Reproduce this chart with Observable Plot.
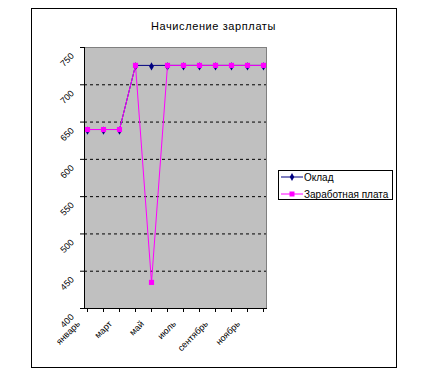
<!DOCTYPE html>
<html><head><meta charset="utf-8">
<script src="https://cdn.jsdelivr.net/npm/d3@7"></script>
<script src="https://cdn.jsdelivr.net/npm/@observablehq/plot@0.6"></script>
<style>
body{margin:0;background:#fff;font-family:"Liberation Sans",Arial,sans-serif;}
#wrap{position:relative;width:442px;height:371px;}
#border{position:absolute;left:31px;top:8px;width:364px;height:358px;border:1px solid #000;box-sizing:content-box;}
#title{position:absolute;left:31px;width:365px;top:20px;text-align:center;font-size:11px;letter-spacing:0.6px;}
#legend{position:absolute;left:278px;top:170px;width:113px;height:28px;border:1px solid #000;font-size:10px;background:#fff;}
.row{position:absolute;left:1px;height:12px;display:flex;align-items:center;}
#chart{position:absolute;left:0;top:0;}
</style></head><body>
<div id="wrap">
<div id="chart"></div>
<div id="border"></div>
<div id="title">Начисление зарплаты</div>
<div id="legend"></div>
</div>
<script>
const months = ["январь","февраль","март","апрель","май","июнь","июль","август","сентябрь","октябрь","ноябрь","декабрь"];
const oklad = [640,640,640,726,726,726,726,726,726,726,726,726];
const zarplata = [640,640,640,726,435,726,726,726,726,726,726,726];
const yTicks = [400,450,500,550,600,650,700,750];
const gridValues = [450,500,550,600,650,700];
const seriesNames = ["Оклад","Заработная плата"];
const colors = ["#000080","#ff00ff"];

const dOk = months.map((m,i)=>({m, v: oklad[i]}));
const dZp = months.map((m,i)=>({m, v: zarplata[i]}));

const plot = Plot.plot({
  width: 442, height: 371,
  marginLeft: 84, marginRight: 176, marginTop: 47, marginBottom: 63,
  style: {fontFamily: '"Liberation Sans", Arial, sans-serif', fontSize: "9px", background: "transparent", overflow: "visible"},
  x: {type: "point", domain: months, padding: 0},
  y: {domain: [400, 750]},
  marks: [
    Plot.frame({fill: "#c0c0c0"}),
    Plot.frame({stroke: "#808080", anchor: "top"}),
    Plot.frame({stroke: "#808080", anchor: "right"}),
    Plot.ruleY(gridValues, {stroke: "#000", strokeDasharray: "3,3", strokeWidth: 1}),
    Plot.axisY({ticks: yTicks, tickSize: 4, text: null, label: null, stroke: "#000"}),
    Plot.axisY({ticks: yTicks, tickSize: 0, tickRotate: -45, tickPadding: 12, dy: 7, label: null, color: "#000"}),
    Plot.frame({stroke: "#000", anchor: "left"}),
    Plot.frame({stroke: "#000", anchor: "bottom"}),
    Plot.axisX({ticks: months, tickSize: 4, text: null, label: null, stroke: "#000"}),
    Plot.axisX({ticks: months, tickSize: 0, tickRotate: -45, tickPadding: 6, dx: -9, dy: 8, label: null, tickFormat: (d) => (months.indexOf(d) % 2 === 0 ? d : "")}),
    Plot.line(dOk, {x: "m", y: "v", stroke: colors[0], strokeWidth: 1}),
    Plot.dot(dOk, {x: "m", y: "v", symbol: "diamond", fill: colors[0], r: 2.5, dy: 1}),
    Plot.line(dZp, {x: "m", y: "v", stroke: colors[1], strokeWidth: 1}),
    Plot.dot(dZp, {x: "m", y: "v", symbol: "square", fill: colors[1], r: 2.9})
  ]
});
document.getElementById("chart").appendChild(plot);

const leg = document.getElementById("legend");
seriesNames.forEach((n,i)=>{
  const row = document.createElement("div");
  row.className = "row";
  row.style.top = (i===0 ? 0 : 17) + "px";
  const sym = d3.symbol(i===0 ? d3.symbolDiamond : d3.symbolSquare, i===0 ? 18 : 25)();
  row.innerHTML = `<svg width="23" height="12"><line x1="1" x2="23" y1="6" y2="6" stroke="${colors[i]}"/><path d="${sym}" transform="translate(12,6)" fill="${colors[i]}"/></svg><span style="margin-left:1px">${n}</span>`;
  leg.appendChild(row);
});
</script>
</body></html>
